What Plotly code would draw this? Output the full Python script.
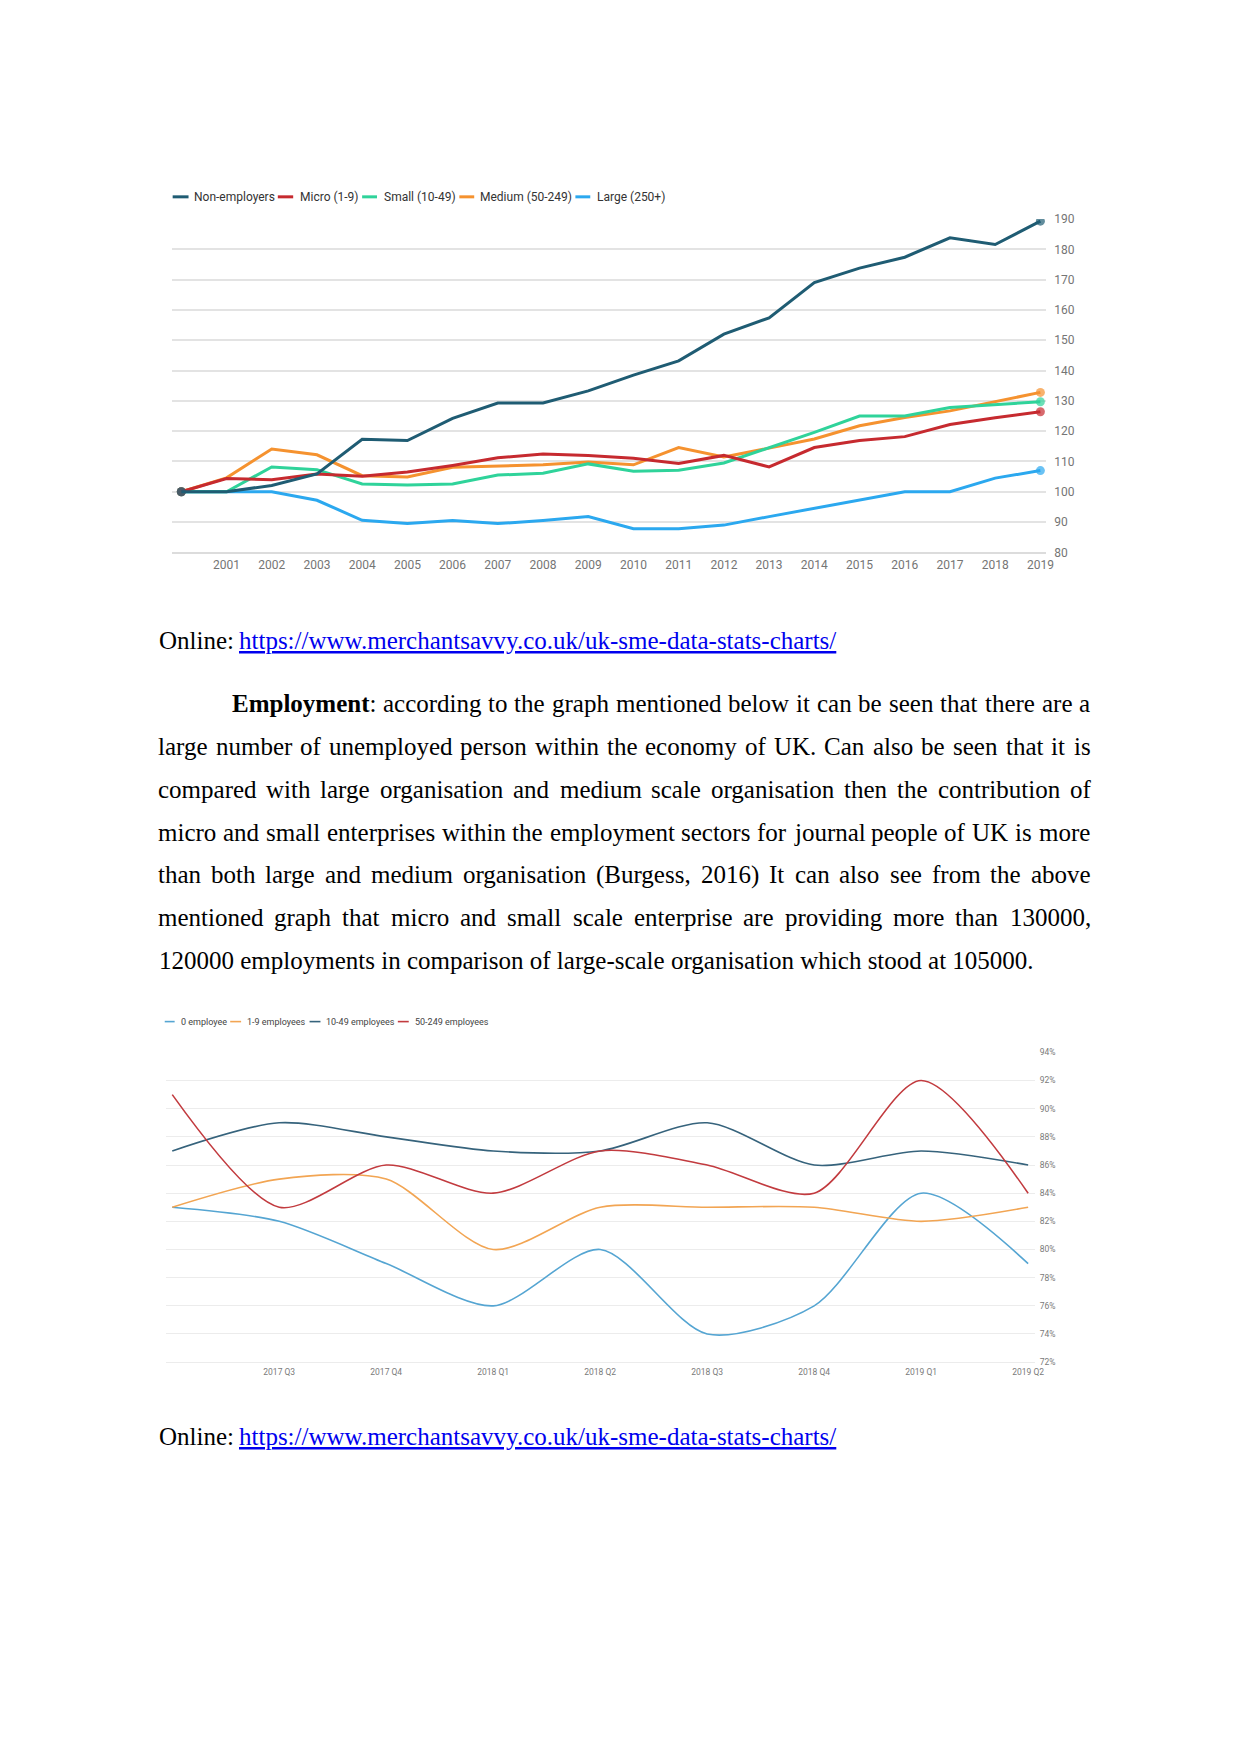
import plotly.graph_objects as go

W, H = 1241, 1754

# ---------------- Chart 1 data ----------------
years = list(range(2000, 2020))
year_ticks = list(range(2001, 2020))
non_employers = [100, 100, 102.1, 105.9, 117.3, 116.9, 124.2, 129.3, 129.3, 133.3,
                 138.5, 143.2, 152.0, 157.4, 169.0, 173.8, 177.4, 183.8, 181.6, 189.3]
micro = [100, 104.4, 104.0, 105.9, 105.1, 106.5, 108.7, 111.2, 112.5, 112.0,
         111.1, 109.3, 112.0, 108.2, 114.6, 116.9, 118.2, 122.2, 124.4, 126.4]
small = [100, 100, 108.2, 107.3, 102.6, 102.2, 102.6, 105.5, 106.1, 109.2,
         106.8, 107.1, 109.5, 114.6, 119.6, 125.0, 125.0, 127.8, 128.8, 129.7]
medium = [100, 104.6, 114.1, 112.2, 105.3, 104.9, 108.1, 108.5, 108.9, 109.8,
          108.9, 114.6, 111.5, 114.4, 117.4, 121.8, 124.5, 126.7, 129.7, 132.8]
large = [100, 100, 100, 97.2, 90.6, 89.5, 90.5, 89.5, 90.5, 91.8,
         87.8, 87.8, 89.0, 91.8, 94.5, 97.3, 100, 100, 104.5, 107.0]
names1 = ["Non-employers", "Micro (1-9)", "Small (10-49)", "Medium (50-249)", "Large (250+)"]
colors1 = ["#1f5c73", "#c62a2f", "#2fd39a", "#f5922f", "#2ba8ef"]

# ---------------- Chart 2 data ----------------
quarters = ["2017 Q2", "2017 Q3", "2017 Q4", "2018 Q1", "2018 Q2",
            "2018 Q3", "2018 Q4", "2019 Q1", "2019 Q2"]
emp_0 = [83, 82, 79, 76, 80, 74, 76, 84, 79]
emp_1_9 = [83, 85, 85, 80, 83, 83, 83, 82, 83]
emp_10_49 = [87, 89, 88, 87, 87, 89, 86, 87, 86]
emp_50_249 = [91, 83, 86, 84, 87, 86, 84, 92, 84]
names2 = ["0 employee", "1-9 employees", "10-49 employees", "50-249 employees"]
colors2 = ["#55a5d2", "#f2a553", "#36637c", "#c23b3f"]

# ---------------- Text ----------------
online_label = "Online: "
url = "https://www.merchantsavvy.co.uk/uk-sme-data-stats-charts/"
body_lines = [
    "Employment: according to the graph mentioned below it can be seen that there are a",
    "large number of unemployed person within the economy of UK. Can also be seen that it is",
    "compared with large organisation and medium scale organisation then the contribution of",
    "micro and small enterprises within the employment sectors for journal people of UK is more",
    "than both large and medium organisation (Burgess, 2016) It can also see from the above",
    "mentioned graph that micro and small scale enterprise are providing more than 130000,",
    "120000 employments in comparison of large-scale organisation which stood at 105000.",
]

# Times-Roman / Times-Bold character widths (per 1000 em)
TR = {' ': 250, '!': 333, '(': 333, ')': 333, ',': 250, '-': 333, '.': 250, '/': 278,
      ':': 278, ';': 278, '?': 444,
      'A': 722, 'B': 667, 'C': 667, 'D': 722, 'E': 611, 'F': 556, 'G': 722, 'H': 722,
      'I': 333, 'J': 389, 'K': 722, 'L': 611, 'M': 889, 'N': 722, 'O': 722, 'P': 556,
      'Q': 722, 'R': 667, 'S': 556, 'T': 611, 'U': 722, 'V': 722, 'W': 944, 'X': 722,
      'Y': 722, 'Z': 611,
      'a': 444, 'b': 500, 'c': 444, 'd': 500, 'e': 444, 'f': 333, 'g': 500, 'h': 500,
      'i': 278, 'j': 278, 'k': 500, 'l': 278, 'm': 778, 'n': 500, 'o': 500, 'p': 500,
      'q': 500, 'r': 333, 's': 389, 't': 278, 'u': 500, 'v': 500, 'w': 722, 'x': 500,
      'y': 500, 'z': 444}
TB = {'E': 667, 'm': 833, 'p': 556, 'l': 278, 'o': 500, 'y': 500, 'e': 444, 'n': 556, 't': 333}
FS = 25
SERIF = "Liberation Serif"


def tw(s, bold=False):
    tbl = TB if bold else TR
    return sum(tbl.get(ch, TR.get(ch, 500)) for ch in s) * FS / 1000.0


def px(x):
    return x / W


def py(y):
    return 1 - y / H


fig = go.Figure()

# Chart 1 traces (top series drawn last)
series1 = [non_employers, micro, small, medium, large]
for name, vals, col in reversed(list(zip(names1, series1, colors1))):
    sizes = [9] + [0] * (len(vals) - 2) + [9]
    fig.add_trace(go.Scatter(x=years, y=vals, mode="lines+markers", name=name,
                             line=dict(color=col, width=3),
                             marker=dict(size=sizes, color=col, line=dict(width=0)),
                             showlegend=False, xaxis="x", yaxis="y", hoverinfo="skip"))

# Chart 2 traces
series2 = [emp_0, emp_1_9, emp_10_49, emp_50_249]
for name, vals, col in zip(names2, series2, colors2):
    fig.add_trace(go.Scatter(x=quarters, y=vals, mode="lines", name=name,
                             line=dict(color=col, width=1.6, shape="spline", smoothing=0.8),
                             showlegend=False, xaxis="x2", yaxis="y2", hoverinfo="skip"))

shapes = []
annotations = []

# Manual legend chart 1
leg1_y = 183.3
leg1_items = [(166, 182, 185), (272, 287.5, 292), (357, 372, 377), (455, 470, 474), (572, 587, 591.5)]
for (x0, x1, xt), name, col in zip(leg1_items, names1, colors1):
    shapes.append(dict(type="line", xref="paper", yref="paper", x0=px(x0), x1=px(x1),
                       y0=py(leg1_y), y1=py(leg1_y), line=dict(color=col, width=3)))
    annotations.append(dict(xref="paper", yref="paper", x=px(xt), y=py(leg1_y), text=name,
                            showarrow=False, xanchor="left", yanchor="middle",
                            font=dict(family="Roboto", size=12, color="#333333")))

# Manual legend chart 2
leg2_y = 1014.7
leg2_items = [(158, 168, 172), (224, 235, 239), (304, 315, 319), (393, 404, 408)]
for (x0, x1, xt), name, col in zip(leg2_items, names2, colors2):
    shapes.append(dict(type="line", xref="paper", yref="paper", x0=px(x0), x1=px(x1),
                       y0=py(leg2_y), y1=py(leg2_y), line=dict(color=col, width=1.6)))
    annotations.append(dict(xref="paper", yref="paper", x=px(xt), y=py(leg2_y), text=name,
                            showarrow=False, xanchor="left", yanchor="middle",
                            font=dict(family="Roboto", size=9, color="#444444")))

# Online source lines
for yy in (632.5, 1434.6):
    annotations.append(dict(xref="paper", yref="paper", x=px(150), y=py(yy - 2), text="Online:",
                            showarrow=False, xanchor="left", yanchor="middle",
                            font=dict(family=SERIF, size=FS, color="#000000")))
    annotations.append(dict(xref="paper", yref="paper", x=px(150 + tw(online_label)), y=py(yy - 2),
                            text=url, showarrow=False, xanchor="left", yanchor="middle",
                            font=dict(family=SERIF, size=FS, color="#0000EE", lineposition="under")))

# Justified body text
line_y = [696.5, 739.6, 782.7, 825.7, 868.8, 911.9, 955.0]
right_edge = 1090
for i, (line, yy) in enumerate(zip(body_lines, line_y)):
    x_start = 225 if i == 0 else 150
    if i == len(body_lines) - 1:
        annotations.append(dict(xref="paper", yref="paper", x=px(x_start), y=py(yy - 2), text=line,
                                showarrow=False, xanchor="left", yanchor="middle",
                                font=dict(family=SERIF, size=FS, color="#000000")))
        continue
    words = line.split(" ")
    widths = []
    texts = []
    for j, w in enumerate(words):
        if i == 0 and j == 0:
            widths.append(tw("Employment", True) + tw(":"))
            texts.append("<b>Employment</b>:")
        else:
            widths.append(tw(w))
            texts.append(w)
    gap = (right_edge - x_start - sum(widths)) / (len(words) - 1)
    x = x_start
    for t, wd in zip(texts, widths):
        annotations.append(dict(xref="paper", yref="paper", x=px(x), y=py(yy - 2), text=t,
                                showarrow=False, xanchor="left", yanchor="middle",
                                borderpad=0,
                                font=dict(family=SERIF, size=FS, color="#000000")))
        x += wd + gap

axis_font1 = dict(family="Roboto", size=12, color="#757575")
axis_font2 = dict(family="Roboto", size=8.5, color="#7a7a7a")

fig.update_layout(
    width=W, height=H, margin=dict(l=0, r=0, t=0, b=0),
    paper_bgcolor="white", plot_bgcolor="white", showlegend=False,
    shapes=shapes, annotations=annotations,
    xaxis=dict(domain=[px(165.6), px(1046.7)], range=[1999.80, 2019.13], anchor="y",
               tickmode="array", tickvals=year_ticks, ticktext=[str(y) for y in year_ticks],
               showgrid=False, zeroline=False, showline=True, linecolor="#dcdcdc", linewidth=1.5,
               ticks="", tickfont=axis_font1, ticklabelstandoff=0, fixedrange=True),
    yaxis=dict(domain=[py(541.7), py(205.7)], range=[80, 190], anchor="x", side="right",
               tickmode="linear", tick0=80, dtick=10, showgrid=True, gridcolor="#e3e3e3",
               gridwidth=1.5, zeroline=False, showline=False, ticks="", tickfont=axis_font1,
               ticklabelstandoff=7, fixedrange=True),
    xaxis2=dict(domain=[px(159), px(1035)], range=[-0.061, 8.061], anchor="y2", type="category",
                tickmode="array", tickvals=quarters[1:], ticktext=quarters[1:],
                showgrid=False, zeroline=False, showline=True, linecolor="#ececec", linewidth=1,
                ticks="", tickfont=axis_font2, ticklabelstandoff=2, fixedrange=True),
    yaxis2=dict(domain=[py(1358), py(1045.7)], range=[72, 94], anchor="x2", side="right",
                tickmode="linear", tick0=72, dtick=2, ticksuffix="%", showgrid=True,
                gridcolor="#ececec", gridwidth=1, zeroline=False, showline=False, ticks="",
                tickfont=axis_font2, ticklabelstandoff=4, fixedrange=True),
)

fig.write_html("out.html")
